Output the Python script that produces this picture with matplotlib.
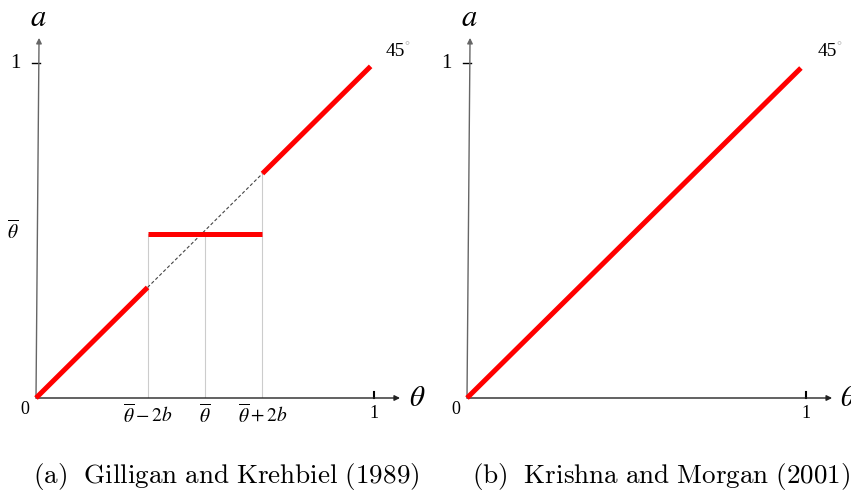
import matplotlib
matplotlib.use("Agg")
import matplotlib.pyplot as plt

# ---- data ----
theta_bar = 0.5
two_b = 0.17
seg_low_x = [0.0, theta_bar - two_b]
seg_low_y = [0.0, theta_bar - two_b]
seg_flat_x = [theta_bar - two_b, theta_bar + two_b]
seg_flat_y = [0.49, 0.49]
seg_high_x = [theta_bar + two_b, 0.99]
seg_high_y = [theta_bar + two_b, 0.99]
kr_x = [0.0, 0.985]
kr_y = [0.0, 0.985]
xtick_pos_a = [theta_bar - two_b, theta_bar, theta_bar + two_b, 1.0]
xtick_lab_a = [r"$\overline{\theta}-2b$", r"$\overline{\theta}$", r"$\overline{\theta}+2b$", "1"]
captions = [r"$\mathrm{(a)\ \ Gilligan\ and\ Krehbiel\ (1989)}$",
            r"$\mathrm{(b)\ \ Krishna\ and\ Morgan\ (2001)}$"]

W, H = 851, 490
fig = plt.figure(figsize=(W / 100, H / 100), dpi=100)

SERIF = "Liberation Serif"


def make_axes(x0px, x1px, y0px, y1px):
    ax = fig.add_axes([x0px / W, 1 - y0px / H, (x1px - x0px) / W, (y0px - y1px) / H])
    ax.set_xlim(0, 1)
    ax.set_ylim(0, 1)
    ax.axis("off")
    return ax


def draw_frame(ax, xarrow_end, yarrow_top, theta_x):
    ax.annotate("", xy=(xarrow_end, 0), xytext=(0, 0), xycoords="data",
                arrowprops=dict(arrowstyle="-|>", color="#222222", lw=1.0,
                                mutation_scale=8, shrinkA=0, shrinkB=0),
                annotation_clip=False)
    ax.annotate("", xy=(0.009, yarrow_top), xytext=(0, 0), xycoords="data",
                arrowprops=dict(arrowstyle="-|>", color="#666666", lw=1.0,
                                mutation_scale=8, shrinkA=0, shrinkB=0),
                annotation_clip=False)
    ax.plot([-0.012, 0.012], [1, 1], color="black", lw=1.0, clip_on=False)
    ax.plot([1, 1], [0, 0.018], color="black", lw=1.5, clip_on=False)
    ax.text(0.006, 1.135, r"$a$", fontsize=22, ha="center", va="center",
            math_fontfamily="stix", clip_on=False)
    ax.text(theta_x, 0.0, r"$\theta$", fontsize=21, ha="left", va="center",
            math_fontfamily="stix", clip_on=False)
    ax.text(-0.032, -0.01, "0", fontsize=13, family=SERIF, ha="center", va="top")
    ax.text(-0.045, 1.0, "1", fontsize=15, family=SERIF, ha="right", va="center")
    ax.text(1.033, 1.033, "45", fontsize=14, family=SERIF, ha="left", va="center")
    ax.text(1.09, 1.05, "°", fontsize=9, family=SERIF, color="#aaaaaa",
            ha="left", va="center")


RED = "#ff0000"

# ---- panel (a) ----
axa = make_axes(36, 374, 398, 63)
draw_frame(axa, 1.077, 1.075, 1.105)
for xv, top in zip([seg_flat_x[0], theta_bar, seg_flat_x[1]],
                   [seg_flat_y[0], seg_flat_y[0], seg_high_y[0]]):
    axa.plot([xv, xv], [0, top], color="#cccccc", lw=0.8, zorder=1)
axa.plot([seg_low_x[1], seg_high_x[0]], [seg_low_y[1], seg_high_y[0]],
         color="#444444", lw=0.8, ls=(0, (3, 2)), zorder=2)
for xs, ys in [(seg_low_x, seg_low_y), (seg_flat_x, seg_flat_y), (seg_high_x, seg_high_y)]:
    axa.plot(xs, ys, color=RED, lw=3.6, solid_capstyle="butt", zorder=3, clip_on=False)
for xv, lab in zip(xtick_pos_a, xtick_lab_a):
    if lab == "1":
        axa.text(xv, -0.022, lab, fontsize=13, family=SERIF, ha="center", va="top")
    else:
        axa.text(xv, -0.015, lab, fontsize=14, ha="center", va="top",
                 math_fontfamily="stix")
axa.text(-0.05, theta_bar, r"$\overline{\theta}$", fontsize=14, ha="right",
         va="center", math_fontfamily="stix")
axa.text(0.562, -0.233, captions[0], fontsize=19.5, ha="center", va="center",
         math_fontfamily="cm")

# ---- panel (b) ----
axb = make_axes(467, 806, 398, 63)
draw_frame(axb, 1.077, 1.075, 1.1)
axb.plot(kr_x, kr_y, color=RED, lw=3.6, solid_capstyle="butt", zorder=3, clip_on=False)
axb.text(1.0, -0.022, "1", fontsize=13, family=SERIF, ha="center", va="top")
axb.text(0.572, -0.233, captions[1], fontsize=19.5, ha="center", va="center",
         math_fontfamily="cm")

fig.savefig("out.png", dpi=100)
